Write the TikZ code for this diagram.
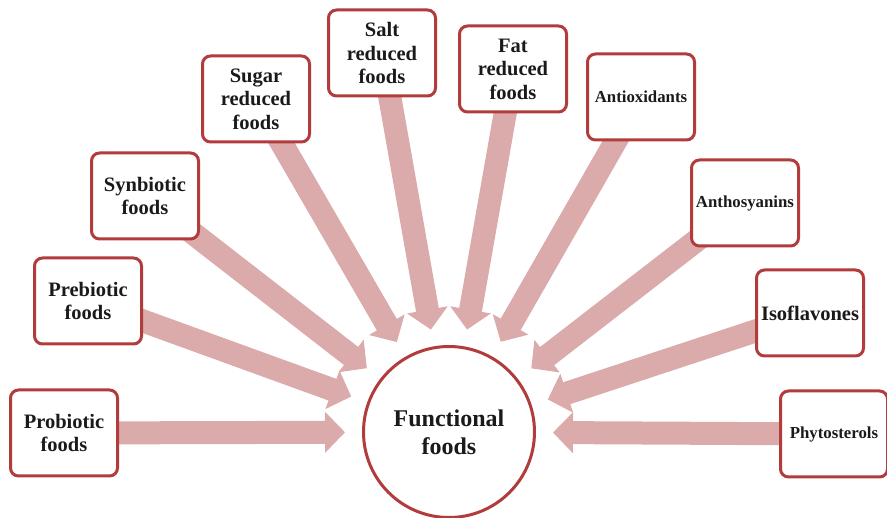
\documentclass[tikz,border=0pt]{standalone}
\usepackage{fontspec}
\setmainfont{Liberation Serif}
\usetikzlibrary{arrows.meta,calc,backgrounds}
\definecolor{boxred}{HTML}{B23B3B}
\definecolor{flowpink}{HTML}{DBAAAB}
\definecolor{ink}{HTML}{1A1A1A}
\tikzset{
  item/.style={draw=boxred, line width=3pt, fill=white, rounded corners=8pt,
    minimum width=107pt, minimum height=86pt, align=center, text=ink,
    font=\bfseries\fontsize{20.5}{23.5}\selectfont, inner sep=2pt},
  smallitem/.style={item, font=\bfseries\fontsize{16.8}{19}\selectfont},
  hub/.style={draw=boxred, line width=3pt, fill=white, circle,
    minimum size=171pt, align=center, text=ink,
    font=\bfseries\fontsize{24}{28}\selectfont},
  flow/.style={draw=flowpink, line width=23pt,
    -{Triangle[width=40pt,length=20pt]}}
}
\begin{document}
\begin{tikzpicture}[x=1pt,y=-1pt]
\useasboundingbox (0,0) rectangle (887,518);

\node[hub] (ff) at (449,432) {Functional\\foods};

\node[item] (pro)  at (64,433)  {Probiotic\\foods};
\node[item] (pre)  at (88,301)  {Prebiotic\\foods};
\node[item] (syn)  at (145,196) {Synbiotic\\foods};
\node[item] (sug)  at (256,99)  {Sugar\\reduced\\foods};
\node[item] (salt) at (382,53)  {Salt\\reduced\\foods};
\node[item] (fat)  at (513,69)  {Fat\\reduced\\foods};
\node[smallitem] (aox) at (641,97)  {Antioxidants};
\node[smallitem] (ant) at (745,203) {Anthosyanins};
\node[item] (iso)  at (810,313) {Isoflavones};
\node[smallitem] (phy) at (834,434) {Phytosterols};

% thick arrows run from each item toward the hub, stopping short of it
\begin{scope}[on background layer]
  \foreach \b in {pro,pre,syn,sug,salt,fat,aox,ant,iso,phy}
    \draw[flow] (\b.center) -- ($(ff.center)!104pt!(\b.center)$);
\end{scope}
\end{tikzpicture}
\end{document}
